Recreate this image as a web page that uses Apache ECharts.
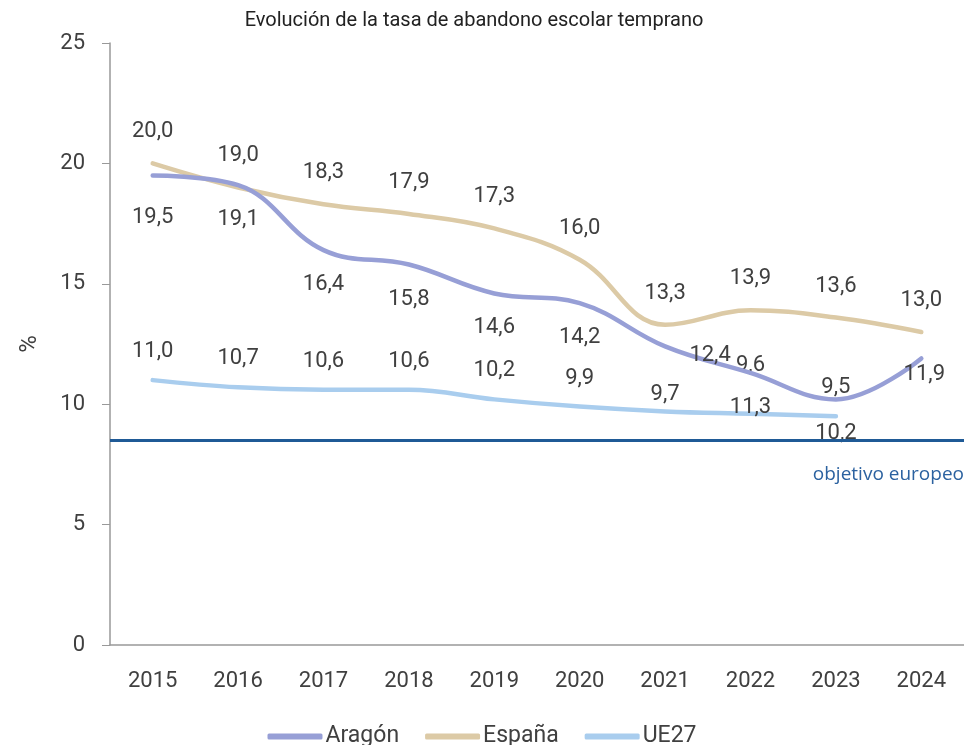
<!DOCTYPE html>
<html>
<head>
<meta charset="utf-8">
<script src="https://cdn.jsdelivr.net/npm/echarts@6/dist/echarts.min.js"></script>
<style>
  html, body { margin: 0; padding: 0; background: #fff; }
  #main { width: 964px; height: 745px; }
</style>
</head>
<body>
<div id="main"></div>
<script>
// datos
var years = ['2015', '2016', '2017', '2018', '2019', '2020', '2021', '2022', '2023', '2024'];
var aragon = [19.5, 19.1, 16.4, 15.8, 14.6, 14.2, 12.4, 11.3, 10.2, 11.9];
var espana = [20.0, 19.0, 18.3, 17.9, 17.3, 16.0, 13.3, 13.9, 13.6, 13.0];
var ue27 = [11.0, 10.7, 10.6, 10.6, 10.2, 9.9, 9.7, 9.6, 9.5, null];
var objetivo = 8.5;

var fontMain = 'Roboto, "Noto Sans", sans-serif';
var txtColor = '#404040';

function fmt(p) {
  return p.value == null ? '' : p.value.toFixed(1).replace('.', ',');
}

// ajustes de etiquetas que en el original estan desplazadas
var labelShift = {
  aragon: { 0: [0, 8], 6: [45, -25], 9: [3, -18] },
  ue27: { 6: [0, 12], 7: [0, -20] }
};

function buildData(values, key) {
  return values.map(function (v, i) {
    var s = labelShift[key] && labelShift[key][i];
    if (!s) return v;
    return { value: v, label: { offset: s } };
  });
}

function lineSeries(name, values, key, color, pos, dist, z) {
  return {
    name: name,
    type: 'line',
    smooth: 0.4,
    symbol: 'circle',
    symbolSize: 1,
    showSymbol: true,
    data: buildData(values, key),
    lineStyle: { width: 4.5, color: color, cap: 'round' },
    itemStyle: { color: color },
    label: { show: true, position: pos, distance: dist, fontSize: 22, color: txtColor, formatter: fmt },
    z: z
  };
}

var myChart = echarts.init(document.getElementById('main'));

var serieUE = lineSeries('UE27', ue27, 'ue27', '#a9cdee', 'top', 17, 1);
serieUE.markLine = {
  silent: true,
  symbol: 'none',
  label: { show: false },
  lineStyle: { color: '#1f5a96', width: 3, type: 'solid' },
  data: [{ yAxis: objetivo }]
};

var option = {
  backgroundColor: '#fff',
  textStyle: { fontFamily: fontMain },
  title: {
    text: 'Evolución de la tasa de abandono escolar temprano',
    left: 469,
    textAlign: 'center',
    top: 6,
    textStyle: { fontSize: 20, fontWeight: 'normal', color: '#222', fontFamily: fontMain }
  },
  legend: {
    data: ['Aragón', 'España', 'UE27'],
    left: 'center',
    top: 720,
    itemWidth: 55,
    itemHeight: 6,
    itemGap: 26,
    icon: 'roundRect',
    textStyle: { fontSize: 23, color: txtColor, padding: [0, 0, 0, -2] }
  },
  grid: { left: 110, right: -5, top: 43, bottom: 100 },
  xAxis: {
    type: 'category',
    data: years,
    boundaryGap: true,
    axisLine: { lineStyle: { color: '#999', width: 1.5 } },
    axisTick: { show: false },
    axisLabel: { fontSize: 22, color: txtColor, margin: 25 }
  },
  yAxis: {
    type: 'value',
    min: 0,
    max: 25,
    interval: 5,
    name: '%',
    nameLocation: 'middle',
    nameGap: 68,
    nameTextStyle: { fontSize: 24, color: txtColor },
    axisLine: { show: true, lineStyle: { color: '#999', width: 1.5 } },
    axisTick: { show: true, length: 8, lineStyle: { color: '#999' } },
    splitLine: { show: false },
    axisLabel: { fontSize: 22, color: txtColor, margin: 25 }
  },
  series: [
    lineSeries('Aragón', aragon, 'aragon', '#979fd6', 'bottom', 23, 3),
    lineSeries('España', espana, 'espana', '#dccaa6', 'top', 20, 2),
    serieUE
  ],
  graphic: [
    {
      type: 'text',
      right: 0,
      top: 465,
      style: {
        text: 'objetivo europeo',
        fontSize: 19,
        fontFamily: '"Open Sans", sans-serif',
        fill: '#2c62a0'
      }
    }
  ]
};

option && myChart.setOption(option);
</script>
</body>
</html>
